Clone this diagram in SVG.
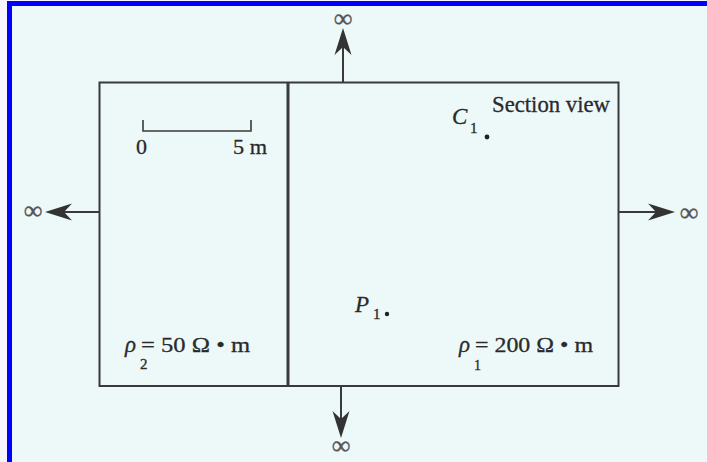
<svg xmlns="http://www.w3.org/2000/svg" width="707" height="462" viewBox="0 0 707 462">
<style>
.ln{stroke:#3a3a3a;fill:none;stroke-width:2}
.t{font-family:"Liberation Serif","Times New Roman",serif;fill:#2a2a2a;stroke:#2a2a2a;stroke-width:0.3}
.i{font-style:italic}
.inf{font-family:"Liberation Serif","Times New Roman",serif;fill:#555;stroke:#555;stroke-width:0.4;font-size:26px;text-anchor:middle}
.ah{fill:#333}
</style>
<defs>
<path id="ah" d="M0,0 L-27,-8.5 L-19,0 L-27,8.5 Z"/>
</defs>
<rect x="0" y="0" width="707" height="462" fill="#f7f5fb"/>
<rect x="12" y="6" width="695" height="456" fill="#edf8f9"/>
<rect x="7" y="1" width="700" height="5" fill="#0000ff"/>
<rect x="7" y="1" width="5" height="461" fill="#0000ff"/>

<g id="region">
<rect class="ln" x="99.5" y="82.5" width="519" height="303.5"/>
<line class="ln" x1="288" y1="82" x2="288" y2="386" style="stroke-width:3"/>
</g>

<g id="scale">
<path class="ln" d="M143,120 V131 H251 V120" style="stroke-width:1.6"/>
<text class="t" x="136" y="154" font-size="22">0</text>
<text class="t" x="233" y="154" font-size="22" textLength="34" lengthAdjust="spacingAndGlyphs">5 m</text>
</g>

<g id="section-label">
<text class="t" x="492" y="112" font-size="23" textLength="118" lengthAdjust="spacingAndGlyphs">Section view</text>
</g>

<g id="C1">
<text class="t i" x="452" y="124" font-size="23">C</text>
<text class="t" x="470" y="133" font-size="15">1</text>
<circle cx="487" cy="137" r="2.4" fill="#222"/>
</g>

<g id="P1">
<text class="t i" x="355" y="312" font-size="23">P</text>
<text class="t" x="373" y="319" font-size="15">1</text>
<circle cx="387" cy="314" r="2.2" fill="#222"/>
</g>

<g id="rho2">
<text class="t i" x="125" y="352" font-size="23">ρ</text>
<text class="t" x="140" y="369" font-size="15">2</text>
<text class="t" x="141" y="352" font-size="22" textLength="109" lengthAdjust="spacingAndGlyphs">= 50 Ω • m</text>
</g>

<g id="rho1">
<text class="t i" x="459" y="352" font-size="23">ρ</text>
<text class="t" x="474" y="370" font-size="14">1</text>
<text class="t" x="475" y="352" font-size="22" textLength="118" lengthAdjust="spacingAndGlyphs">= 200 Ω • m</text>
</g>

<g id="connectors">
<line class="ln" x1="343" y1="82" x2="343" y2="40"/>
<use href="#ah" class="ah" transform="translate(343,28) rotate(-90)"/>
<line class="ln" x1="341" y1="386" x2="341" y2="426"/>
<use href="#ah" class="ah" transform="translate(341,438) rotate(90)"/>
<line class="ln" x1="99" y1="212" x2="57" y2="212"/>
<use href="#ah" class="ah" transform="translate(45,212) rotate(180)"/>
<line class="ln" x1="619" y1="212" x2="663" y2="212"/>
<use href="#ah" class="ah" transform="translate(675,212)"/>
</g>

<g id="infinity-labels">
<text class="inf" x="343" y="27">∞</text>
<text class="inf" x="341" y="454">∞</text>
<text class="inf" x="33" y="219">∞</text>
<text class="inf" x="689" y="221">∞</text>
</g>
</svg>
